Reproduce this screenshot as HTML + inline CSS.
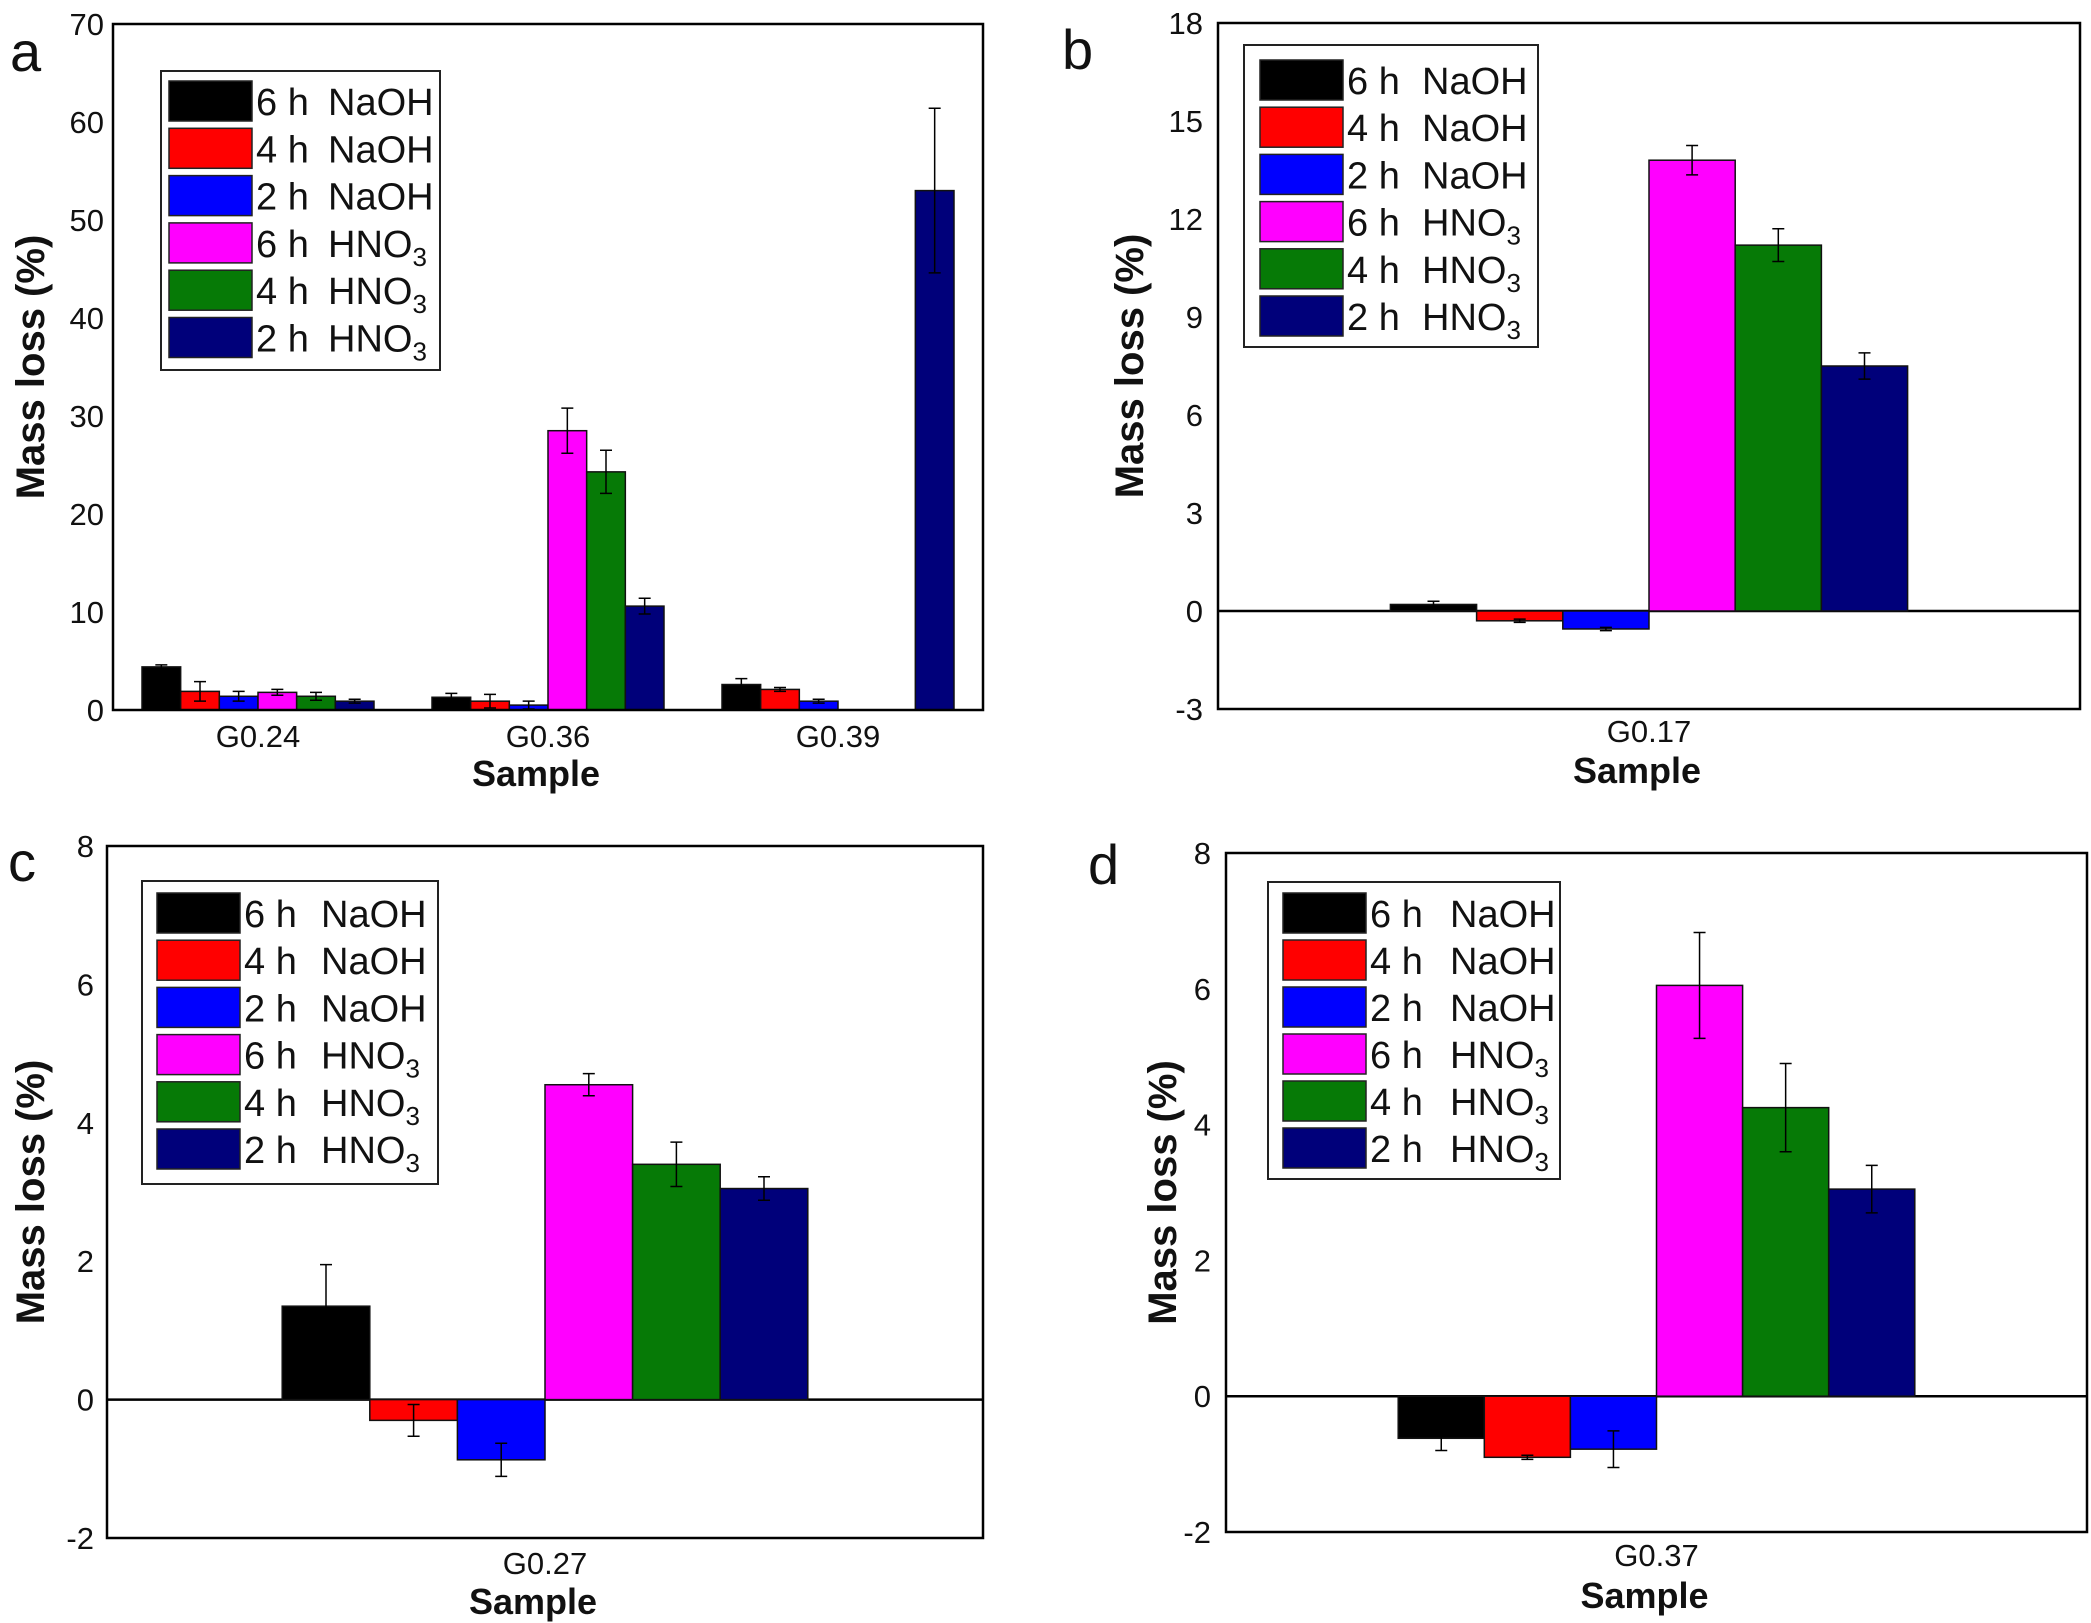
<!DOCTYPE html>
<html><head><meta charset="utf-8"><style>
body{margin:0;background:#fff}
svg{display:block;font-family:"Liberation Sans",Arial,sans-serif}
</style></head><body>
<svg id="fig" width="2091" height="1623" viewBox="0 0 2091 1623" xmlns="http://www.w3.org/2000/svg"></svg>
<script>
const seriesNames = ["6 h|NaOH","4 h|NaOH","2 h|NaOH","6 h|HNO3","4 h|HNO3","2 h|HNO3"];
const seriesColors = ["#000000","#ff0000","#0000ff","#ff00ff","#067a06","#00007a"];

const aCategories = ["G0.24","G0.36","G0.39"];
const aValues = [[4.4,1.3,2.6],[1.9,0.9,2.1],[1.4,0.5,0.9],[1.8,28.5,0],[1.4,24.3,0],[0.9,10.6,53.0]];
const aErrors = [[0.2,0.4,0.6],[1.0,0.7,0.2],[0.5,0.4,0.2],[0.3,2.3,0],[0.4,2.2,0],[0.2,0.8,8.4]];
const aTicks = [0,10,20,30,40,50,60,70];

const bCategories = ["G0.17"];
const bValues = [[0.2],[-0.3],[-0.55],[13.8],[11.2],[7.5]];
const bErrors = [[0.1],[0.05],[0.05],[0.45],[0.5],[0.4]];
const bTicks = [-3,0,3,6,9,12,15,18];

const cCategories = ["G0.27"];
const cValues = [[1.35],[-0.3],[-0.87],[4.55],[3.4],[3.05]];
const cErrors = [[0.6],[0.23],[0.24],[0.16],[0.32],[0.17]];
const cTicks = [-2,0,2,4,6,8];

const dCategories = ["G0.37"];
const dValues = [[-0.62],[-0.9],[-0.78],[6.05],[4.25],[3.05]];
const dErrors = [[0.18],[0.03],[0.27],[0.78],[0.65],[0.35]];
const dTicks = [-2,0,2,4,6,8];

const NS="http://www.w3.org/2000/svg";
const svg=document.getElementById('fig');
function mk(tag,attrs,parent){const e=document.createElementNS(NS,tag);for(const k in attrs)e.setAttribute(k,attrs[k]);(parent||svg).appendChild(e);return e;}

function panel(p){
  const g=mk('g',{});
  
  
  const ymin=p.ticks[0], ymax=p.ticks[p.ticks.length-1];
  const y=v=>p.B-(v-ymin)/(ymax-ymin)*(p.B-p.T);
  const band=(p.R-p.L)/p.cats.length;
  const bw=band*p.fill/6;
  if(ymin<0){const z=mk('line',{x1:p.L,x2:p.R,y1:y(0),y2:y(0),stroke:'#000','stroke-width':2.5},g);
    
    }
  for(let s=0;s<6;s++){
    for(let c=0;c<p.cats.length;c++){
      const v=p.vals[s][c], e=p.errs[s][c];
      const cx=p.L+band*(c+0.5), x0=cx-band*p.fill/2+s*bw;
      const yt=Math.min(y(v),y(0)), h=Math.abs(y(v)-y(0));
      if(h>0.5){const r=mk('rect',{x:x0,y:yt,width:bw,height:h,fill:seriesColors[s],stroke:'#111','stroke-width':1.5},g);
        
        }
      if(e>0){
        const mx=x0+bw/2, y1=y(v+e), y2=y(v-e);
        const eb=mk('path',{d:`M${mx},${y1}V${y2}M${mx-6},${y1}H${mx+6}M${mx-6},${y2}H${mx+6}`,stroke:'#000','stroke-width':1.5,fill:'none'},g);
        
        
      }
    }
  }
  const fr=mk('rect',{x:p.L,y:p.T,width:p.R-p.L,height:p.B-p.T,fill:'none',stroke:'#000','stroke-width':2.5},g);
  
  
  p.ticks.forEach(t=>{
    const tl=mk('text',{x:p.tickX,y:y(t)+11,'text-anchor':'end','font-size':31,fill:'#111'},g);
    tl.textContent=t;
    
    
  });
  p.cats.forEach((c,i)=>{
    const cl=mk('text',{x:p.L+band*(i+0.5),y:p.catY+11,'text-anchor':'middle','font-size':31,fill:'#111'},g);
    cl.textContent=c;
    
    
  });
  const xt=mk('text',{x:(p.L+p.R)/2-12,y:p.sampY+14,'text-anchor':'middle','font-size':36,'font-weight':'bold',fill:'#111'},g);
  xt.textContent='Sample';
  
  
  const yc=(p.T+p.B)/2;
  const yt=mk('text',{x:p.ytX,y:yc,'text-anchor':'middle','font-size':40,'font-weight':'bold',fill:'#111',transform:`rotate(-90 ${p.ytX} ${yc}) translate(0 14)`},g);
  yt.textContent='Mass loss (%)';
  
  
  const pl=mk('text',{x:p.letX,y:p.letY+18,'font-size':56,fill:'#111'},g);
  pl.textContent=p.id;
  
  
  const lg=mk('g',{},g);
  
  
  const lb=p.leg;
  mk('rect',{x:lb.x,y:lb.y,width:lb.w,height:lb.h,fill:'#fff',stroke:'#222','stroke-width':2},lg);
  for(let s=0;s<6;s++){
    const ry=lb.r0+s*lb.dy;
    const en=mk('g',{},lg);
    
    
    mk('rect',{x:lb.sx,y:ry-20,width:lb.sw,height:40,fill:seriesColors[s],stroke:'#222','stroke-width':1.5},en);
    const parts=seriesNames[s].split('|');
    const t1=mk('text',{x:lb.sx+lb.sw+4,y:ry+14,'font-size':38,fill:'#111'},en);t1.textContent=parts[0];
    const t2=mk('text',{x:lb.sx+lb.sw+4+lb.gap,y:ry+14,'font-size':38,fill:'#111'},en);
    if(parts[1]==='HNO3'){t2.textContent='HNO';const sb=mk('tspan',{'font-size':26,dy:9},t2);sb.textContent='3';}
    else t2.textContent=parts[1];
  }
}

panel({id:'a',L:113,R:983,T:24,B:710,ticks:aTicks,cats:aCategories,vals:aValues,errs:aErrors,fill:0.8,
  tickX:104,catY:736,sampY:772,ytX:30,letX:10,letY:53,
  leg:{x:161,y:71,w:279,h:299,r0:101,dy:47.3,sx:169,sw:83,gap:72}});
panel({id:'b',L:1218,R:2080,T:23,B:709,ticks:bTicks,cats:bCategories,vals:bValues,errs:bErrors,fill:0.6,
  tickX:1203,catY:731,sampY:769,ytX:1129,letX:1062,letY:51,
  leg:{x:1244,y:45,w:294,h:302,r0:80,dy:47.2,sx:1260,sw:83,gap:75}});
panel({id:'c',L:107,R:983,T:846,B:1538,ticks:cTicks,cats:cCategories,vals:cValues,errs:cErrors,fill:0.6,
  tickX:94,catY:1563,sampY:1600,ytX:30,letX:8,letY:863,
  leg:{x:142,y:881,w:296,h:303,r0:913,dy:47.2,sx:157,sw:83,gap:77}});
panel({id:'d',L:1226,R:2087,T:853,B:1532,ticks:dTicks,cats:dCategories,vals:dValues,errs:dErrors,fill:0.6,
  tickX:1211,catY:1555,sampY:1594,ytX:1162,letX:1088,letY:866,
  leg:{x:1268,y:882,w:292,h:297,r0:913,dy:47,sx:1283,sw:83,gap:80}});
</script>
</body></html>
